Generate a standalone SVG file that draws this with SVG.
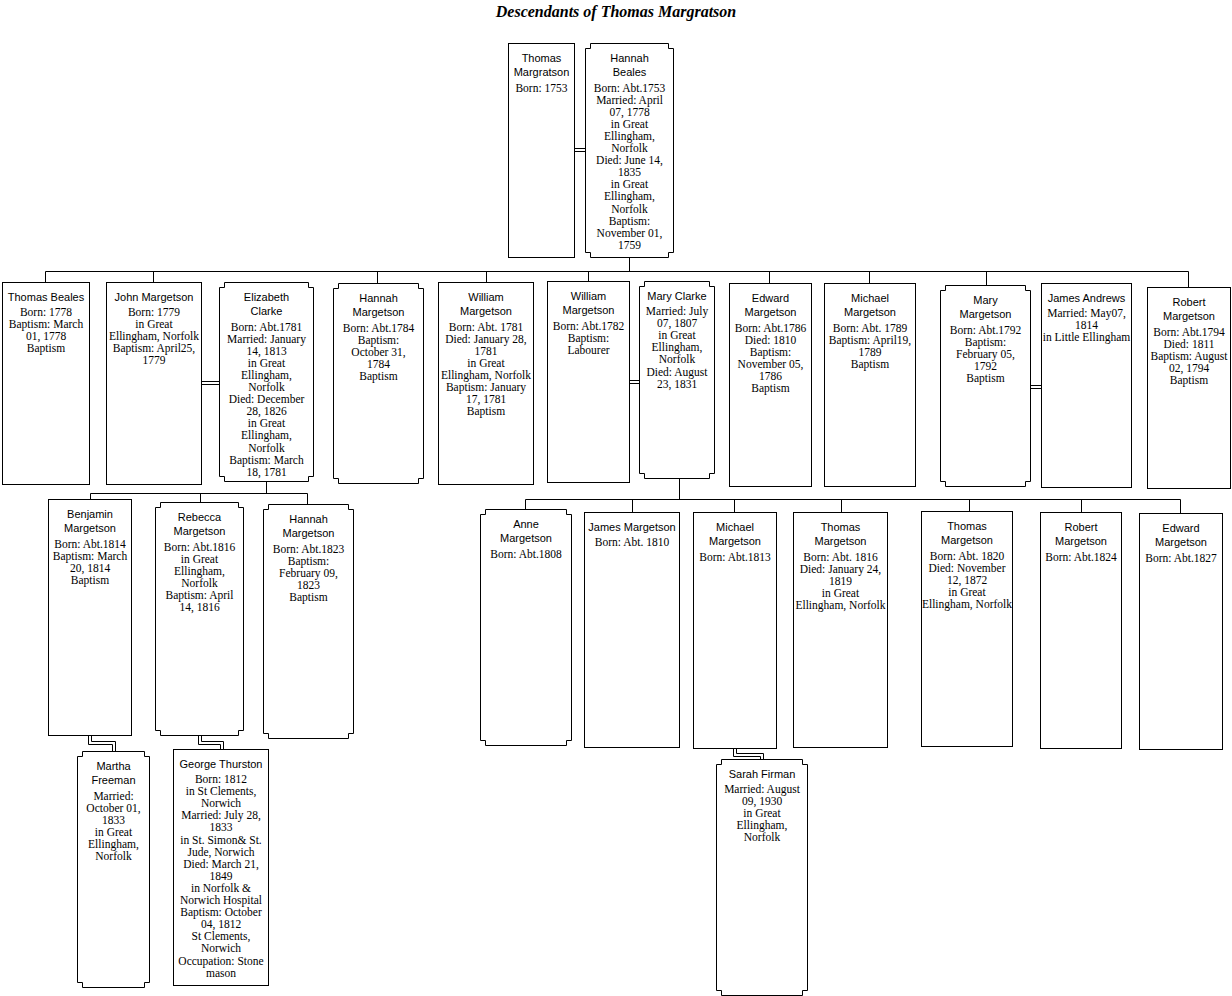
<svg xmlns="http://www.w3.org/2000/svg" width="1232" height="996" viewBox="0 0 1232 996">
<style>
.box{fill:#fff;stroke:#000;stroke-width:1}
.ln{fill:none;stroke:#000;stroke-width:1}
.nm{font-family:"Liberation Sans",Arial,sans-serif;font-size:11px;text-anchor:middle;fill:#000}
.dt{font-family:"Liberation Serif","Times New Roman",serif;font-size:11.5px;text-anchor:middle;fill:#000}
.title{font-family:"Liberation Serif","Times New Roman",serif;font-size:16px;font-weight:bold;font-style:italic;text-anchor:middle;fill:#000}
</style>
<rect width="1232" height="996" fill="#fff"/>
<text class="title" x="616" y="17">Descendants of Thomas Margratson</text>
<g transform="translate(0.5 0.5)">
<g id="connectors" class="ln">
<path d="M574,148 H585 M574,151 H585"/>
<path d="M629,257 V271 M45,271 H1188"/>
<path d="M45,271 V282 M153,271 V282 M377,271 V283 M486,271 V282 M588,271 V281 M769,271 V283 M869,271 V283 M986,271 V285 M1188,271 V287"/>
<path d="M201,381 H219 M201,384 H219"/>
<path d="M629,380 H639 M629,383 H639"/>
<path d="M1030,385 H1041 M1030,388 H1041"/>
<path d="M266,481 V493 M90,493 H307 M90,493 V499 M200,493 V502 M307,493 V504"/>
<path d="M679,478 V499 M525,499 H1180 M525,499 V509 M632,499 V512 M734,499 V512 M841,499 V512 M969,499 V511 M1081,499 V512 M1180,499 V513"/>
<path d="M88,735 V744 H112 V751 M91,735 V741 H115 V751"/>
<path d="M198,735 V744 H220 V749 M201,735 V741 H223 V749"/>
<path d="M733,748 V756 H760 V759 M736,748 V753 H763 V759"/>
</g>

<g id="n_thomas_margratson">
<rect class="box" x="508" y="43" width="66" height="214"/>
<text class="nm" x="541" y="61"><tspan x="541">Thomas</tspan><tspan x="541" dy="14.5">Margratson</tspan></text>
<text class="dt" x="541" y="91"><tspan x="541">Born: 1753</tspan></text>
</g>
<g id="n_hannah_beales">
<path class="box" d="M590,43 H668 V48 H673 V252 H668 V257 H590 V252 H585 V48 H590 Z"/>
<text class="nm" x="629" y="61"><tspan x="629">Hannah</tspan><tspan x="629" dy="14.5">Beales</tspan></text>
<text class="dt" x="629" y="91"><tspan x="629">Born: Abt.1753</tspan><tspan x="629" dy="12.1">Married: April</tspan><tspan x="629" dy="12.1">07, 1778</tspan><tspan x="629" dy="12.1">in Great</tspan><tspan x="629" dy="12.1">Ellingham,</tspan><tspan x="629" dy="12.1">Norfolk</tspan><tspan x="629" dy="12.1">Died: June 14,</tspan><tspan x="629" dy="12.1">1835</tspan><tspan x="629" dy="12.1">in Great</tspan><tspan x="629" dy="12.1">Ellingham,</tspan><tspan x="629" dy="12.1">Norfolk</tspan><tspan x="629" dy="12.1">Baptism:</tspan><tspan x="629" dy="12.1">November 01,</tspan><tspan x="629" dy="12.1">1759</tspan></text>
</g>

<g id="n_thomas_beales">
<rect class="box" x="2" y="282" width="87" height="202"/>
<text class="nm" x="45.5" y="300">Thomas Beales</text>
<text class="dt" x="45.5" y="315.5"><tspan x="45.5">Born: 1778</tspan><tspan x="45.5" dy="12.1">Baptism: March</tspan><tspan x="45.5" dy="12.1">01, 1778</tspan><tspan x="45.5" dy="12.1">Baptism</tspan></text>
</g>
<g id="n_john_margetson">
<rect class="box" x="106" y="282" width="95" height="202"/>
<text class="nm" x="153.5" y="300">John Margetson</text>
<text class="dt" x="153.5" y="315.5"><tspan x="153.5">Born: 1779</tspan><tspan x="153.5" dy="12.1">in Great</tspan><tspan x="153.5" dy="12.1">Ellingham, Norfolk</tspan><tspan x="153.5" dy="12.1">Baptism: April25,</tspan><tspan x="153.5" dy="12.1">1779</tspan></text>
</g>
<g id="n_elizabeth_clarke">
<path class="box" d="M224,282 H308 V287 H313 V476 H308 V481 H224 V476 H219 V287 H224 Z"/>
<text class="nm" x="266" y="300"><tspan x="266">Elizabeth</tspan><tspan x="266" dy="14.5">Clarke</tspan></text>
<text class="dt" x="266" y="330"><tspan x="266">Born: Abt.1781</tspan><tspan x="266" dy="12.1">Married: January</tspan><tspan x="266" dy="12.1">14, 1813</tspan><tspan x="266" dy="12.1">in Great</tspan><tspan x="266" dy="12.1">Ellingham,</tspan><tspan x="266" dy="12.1">Norfolk</tspan><tspan x="266" dy="12.1">Died: December</tspan><tspan x="266" dy="12.1">28, 1826</tspan><tspan x="266" dy="12.1">in Great</tspan><tspan x="266" dy="12.1">Ellingham,</tspan><tspan x="266" dy="12.1">Norfolk</tspan><tspan x="266" dy="12.1">Baptism: March</tspan><tspan x="266" dy="12.1">18, 1781</tspan></text>
</g>
<g id="n_hannah_margetson_1784">
<path class="box" d="M338,283 H418 V288 H423 V478 H418 V483 H338 V478 H333 V288 H338 Z"/>
<text class="nm" x="378" y="301"><tspan x="378">Hannah</tspan><tspan x="378" dy="14.5">Margetson</tspan></text>
<text class="dt" x="378" y="331"><tspan x="378">Born: Abt.1784</tspan><tspan x="378" dy="12.1">Baptism:</tspan><tspan x="378" dy="12.1">October 31,</tspan><tspan x="378" dy="12.1">1784</tspan><tspan x="378" dy="12.1">Baptism</tspan></text>
</g>
<g id="n_william_margetson_1781">
<rect class="box" x="438" y="282" width="95" height="202"/>
<text class="nm" x="485.5" y="300"><tspan x="485.5">William</tspan><tspan x="485.5" dy="14.5">Margetson</tspan></text>
<text class="dt" x="485.5" y="330"><tspan x="485.5">Born: Abt. 1781</tspan><tspan x="485.5" dy="12.1">Died: January 28,</tspan><tspan x="485.5" dy="12.1">1781</tspan><tspan x="485.5" dy="12.1">in Great</tspan><tspan x="485.5" dy="12.1">Ellingham, Norfolk</tspan><tspan x="485.5" dy="12.1">Baptism: January</tspan><tspan x="485.5" dy="12.1">17, 1781</tspan><tspan x="485.5" dy="12.1">Baptism</tspan></text>
</g>
<g id="n_william_margetson_1782">
<rect class="box" x="547" y="281" width="82" height="201"/>
<text class="nm" x="588" y="299"><tspan x="588">William</tspan><tspan x="588" dy="14.5">Margetson</tspan></text>
<text class="dt" x="588" y="329"><tspan x="588">Born: Abt.1782</tspan><tspan x="588" dy="12.1">Baptism:</tspan><tspan x="588" dy="12.1">Labourer</tspan></text>
</g>
<g id="n_mary_clarke">
<path class="box" d="M644,281 H709 V286 H714 V473 H709 V478 H644 V473 H639 V286 H644 Z"/>
<text class="nm" x="676.5" y="299">Mary Clarke</text>
<text class="dt" x="676.5" y="314.5"><tspan x="676.5">Married: July</tspan><tspan x="676.5" dy="12.1">07, 1807</tspan><tspan x="676.5" dy="12.1">in Great</tspan><tspan x="676.5" dy="12.1">Ellingham,</tspan><tspan x="676.5" dy="12.1">Norfolk</tspan><tspan x="676.5" dy="12.1">Died: August</tspan><tspan x="676.5" dy="12.1">23, 1831</tspan></text>
</g>
<g id="n_edward_margetson_1786">
<rect class="box" x="729" y="283" width="82" height="203"/>
<text class="nm" x="770" y="301"><tspan x="770">Edward</tspan><tspan x="770" dy="14.5">Margetson</tspan></text>
<text class="dt" x="770" y="331"><tspan x="770">Born: Abt.1786</tspan><tspan x="770" dy="12.1">Died: 1810</tspan><tspan x="770" dy="12.1">Baptism:</tspan><tspan x="770" dy="12.1">November 05,</tspan><tspan x="770" dy="12.1">1786</tspan><tspan x="770" dy="12.1">Baptism</tspan></text>
</g>
<g id="n_michael_margetson_1789">
<rect class="box" x="824" y="283" width="91" height="203"/>
<text class="nm" x="869.5" y="301"><tspan x="869.5">Michael</tspan><tspan x="869.5" dy="14.5">Margetson</tspan></text>
<text class="dt" x="869.5" y="331"><tspan x="869.5">Born: Abt. 1789</tspan><tspan x="869.5" dy="12.1">Baptism: April19,</tspan><tspan x="869.5" dy="12.1">1789</tspan><tspan x="869.5" dy="12.1">Baptism</tspan></text>
</g>
<g id="n_mary_margetson">
<path class="box" d="M945,285 H1025 V290 H1030 V481 H1025 V486 H945 V481 H940 V290 H945 Z"/>
<text class="nm" x="985" y="303"><tspan x="985">Mary</tspan><tspan x="985" dy="14.5">Margetson</tspan></text>
<text class="dt" x="985" y="333"><tspan x="985">Born: Abt.1792</tspan><tspan x="985" dy="12.1">Baptism:</tspan><tspan x="985" dy="12.1">February 05,</tspan><tspan x="985" dy="12.1">1792</tspan><tspan x="985" dy="12.1">Baptism</tspan></text>
</g>
<g id="n_james_andrews">
<rect class="box" x="1041" y="283" width="90" height="204"/>
<text class="nm" x="1086" y="301">James Andrews</text>
<text class="dt" x="1086" y="316.5"><tspan x="1086">Married: May07,</tspan><tspan x="1086" dy="12.1">1814</tspan><tspan x="1086" dy="12.1">in Little Ellingham</tspan></text>
</g>
<g id="n_robert_margetson_1794">
<rect class="box" x="1147" y="287" width="83" height="201"/>
<text class="nm" x="1188.5" y="305"><tspan x="1188.5">Robert</tspan><tspan x="1188.5" dy="14.5">Margetson</tspan></text>
<text class="dt" x="1188.5" y="335"><tspan x="1188.5">Born: Abt.1794</tspan><tspan x="1188.5" dy="12.1">Died: 1811</tspan><tspan x="1188.5" dy="12.1">Baptism: August</tspan><tspan x="1188.5" dy="12.1">02, 1794</tspan><tspan x="1188.5" dy="12.1">Baptism</tspan></text>
</g>

<g id="n_benjamin_margetson">
<rect class="box" x="48" y="499" width="83" height="236"/>
<text class="nm" x="89.5" y="517"><tspan x="89.5">Benjamin</tspan><tspan x="89.5" dy="14.5">Margetson</tspan></text>
<text class="dt" x="89.5" y="547"><tspan x="89.5">Born: Abt.1814</tspan><tspan x="89.5" dy="12.1">Baptism: March</tspan><tspan x="89.5" dy="12.1">20, 1814</tspan><tspan x="89.5" dy="12.1">Baptism</tspan></text>
</g>
<g id="n_rebecca_margetson">
<path class="box" d="M160,502 H238 V507 H243 V730 H238 V735 H160 V730 H155 V507 H160 Z"/>
<text class="nm" x="199" y="520"><tspan x="199">Rebecca</tspan><tspan x="199" dy="14.5">Margetson</tspan></text>
<text class="dt" x="199" y="550"><tspan x="199">Born: Abt.1816</tspan><tspan x="199" dy="12.1">in Great</tspan><tspan x="199" dy="12.1">Ellingham,</tspan><tspan x="199" dy="12.1">Norfolk</tspan><tspan x="199" dy="12.1">Baptism: April</tspan><tspan x="199" dy="12.1">14, 1816</tspan></text>
</g>
<g id="n_hannah_margetson_1823">
<path class="box" d="M268,504 H348 V509 H353 V733 H348 V738 H268 V733 H263 V509 H268 Z"/>
<text class="nm" x="308" y="522"><tspan x="308">Hannah</tspan><tspan x="308" dy="14.5">Margetson</tspan></text>
<text class="dt" x="308" y="552"><tspan x="308">Born: Abt.1823</tspan><tspan x="308" dy="12.1">Baptism:</tspan><tspan x="308" dy="12.1">February 09,</tspan><tspan x="308" dy="12.1">1823</tspan><tspan x="308" dy="12.1">Baptism</tspan></text>
</g>
<g id="n_martha_freeman">
<path class="box" d="M82,751 H144 V756 H149 V982 H144 V987 H82 V982 H77 V756 H82 Z"/>
<text class="nm" x="113" y="769"><tspan x="113">Martha</tspan><tspan x="113" dy="14.5">Freeman</tspan></text>
<text class="dt" x="113" y="799"><tspan x="113">Married:</tspan><tspan x="113" dy="12.1">October 01,</tspan><tspan x="113" dy="12.1">1833</tspan><tspan x="113" dy="12.1">in Great</tspan><tspan x="113" dy="12.1">Ellingham,</tspan><tspan x="113" dy="12.1">Norfolk</tspan></text>
</g>
<g id="n_george_thurston">
<rect class="box" x="173" y="749" width="95" height="236"/>
<text class="nm" x="220.5" y="767">George Thurston</text>
<text class="dt" x="220.5" y="782.5"><tspan x="220.5">Born: 1812</tspan><tspan x="220.5" dy="12.1">in St Clements,</tspan><tspan x="220.5" dy="12.1">Norwich</tspan><tspan x="220.5" dy="12.1">Married: July 28,</tspan><tspan x="220.5" dy="12.1">1833</tspan><tspan x="220.5" dy="12.1">in St. Simon&amp; St.</tspan><tspan x="220.5" dy="12.1">Jude, Norwich</tspan><tspan x="220.5" dy="12.1">Died: March 21,</tspan><tspan x="220.5" dy="12.1">1849</tspan><tspan x="220.5" dy="12.1">in Norfolk &amp;</tspan><tspan x="220.5" dy="12.1">Norwich Hospital</tspan><tspan x="220.5" dy="12.1">Baptism: October</tspan><tspan x="220.5" dy="12.1">04, 1812</tspan><tspan x="220.5" dy="12.1">St Clements,</tspan><tspan x="220.5" dy="12.1">Norwich</tspan><tspan x="220.5" dy="12.1">Occupation: Stone</tspan><tspan x="220.5" dy="12.1">mason</tspan></text>
</g>

<g id="n_anne_margetson">
<path class="box" d="M485,509 H566 V514 H571 V740 H566 V745 H485 V740 H480 V514 H485 Z"/>
<text class="nm" x="525.5" y="527"><tspan x="525.5">Anne</tspan><tspan x="525.5" dy="14.5">Margetson</tspan></text>
<text class="dt" x="525.5" y="557"><tspan x="525.5">Born: Abt.1808</tspan></text>
</g>
<g id="n_james_margetson">
<rect class="box" x="584" y="512" width="95" height="235"/>
<text class="nm" x="631.5" y="530">James Margetson</text>
<text class="dt" x="631.5" y="545.5"><tspan x="631.5">Born: Abt. 1810</tspan></text>
</g>
<g id="n_michael_margetson_1813">
<rect class="box" x="693" y="512" width="83" height="236"/>
<text class="nm" x="734.5" y="530"><tspan x="734.5">Michael</tspan><tspan x="734.5" dy="14.5">Margetson</tspan></text>
<text class="dt" x="734.5" y="560"><tspan x="734.5">Born: Abt.1813</tspan></text>
</g>
<g id="n_thomas_margetson_1816">
<rect class="box" x="793" y="512" width="94" height="235"/>
<text class="nm" x="840" y="530"><tspan x="840">Thomas</tspan><tspan x="840" dy="14.5">Margetson</tspan></text>
<text class="dt" x="840" y="560"><tspan x="840">Born: Abt. 1816</tspan><tspan x="840" dy="12.1">Died: January 24,</tspan><tspan x="840" dy="12.1">1819</tspan><tspan x="840" dy="12.1">in Great</tspan><tspan x="840" dy="12.1">Ellingham, Norfolk</tspan></text>
</g>
<g id="n_thomas_margetson_1820">
<rect class="box" x="921" y="511" width="91" height="235"/>
<text class="nm" x="966.5" y="529"><tspan x="966.5">Thomas</tspan><tspan x="966.5" dy="14.5">Margetson</tspan></text>
<text class="dt" x="966.5" y="559"><tspan x="966.5">Born: Abt. 1820</tspan><tspan x="966.5" dy="12.1">Died: November</tspan><tspan x="966.5" dy="12.1">12, 1872</tspan><tspan x="966.5" dy="12.1">in Great</tspan><tspan x="966.5" dy="12.1">Ellingham, Norfolk</tspan></text>
</g>
<g id="n_robert_margetson_1824">
<rect class="box" x="1040" y="512" width="81" height="236"/>
<text class="nm" x="1080.5" y="530"><tspan x="1080.5">Robert</tspan><tspan x="1080.5" dy="14.5">Margetson</tspan></text>
<text class="dt" x="1080.5" y="560"><tspan x="1080.5">Born: Abt.1824</tspan></text>
</g>
<g id="n_edward_margetson_1827">
<rect class="box" x="1139" y="513" width="83" height="236"/>
<text class="nm" x="1180.5" y="531"><tspan x="1180.5">Edward</tspan><tspan x="1180.5" dy="14.5">Margetson</tspan></text>
<text class="dt" x="1180.5" y="561"><tspan x="1180.5">Born: Abt.1827</tspan></text>
</g>
<g id="n_sarah_firman">
<path class="box" d="M721,759 H802 V764 H807 V990 H802 V995 H721 V990 H716 V764 H721 Z"/>
<text class="nm" x="761.5" y="777">Sarah Firman</text>
<text class="dt" x="761.5" y="792.5"><tspan x="761.5">Married: August</tspan><tspan x="761.5" dy="12.1">09, 1930</tspan><tspan x="761.5" dy="12.1">in Great</tspan><tspan x="761.5" dy="12.1">Ellingham,</tspan><tspan x="761.5" dy="12.1">Norfolk</tspan></text>
</g>
</g>
</svg>
